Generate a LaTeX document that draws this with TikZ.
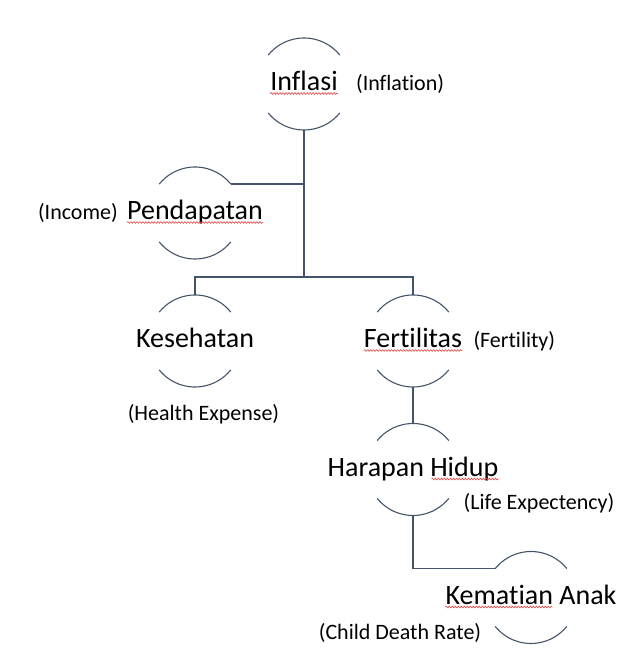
\documentclass[tikz,border=0pt]{standalone}
\usepackage{fontspec}
\setmainfont{Carlito}[Ligatures={NoCommon},RawFeature={-liga}]
\usetikzlibrary{positioning,decorations.pathmorphing}
\definecolor{linegray}{HTML}{44546A}
\definecolor{spellred}{HTML}{E04848}

\begin{document}
\begin{tikzpicture}[x=1pt,y=1pt,main/.style={inner sep=0pt,text height=18pt,text depth=4pt,font=\fontsize{28}{30}\selectfont},trans/.style={inner sep=0pt,font=\fontsize{22}{24}\selectfont},link/.style={draw=linegray,line width=1.6pt},rim/.style={draw=linegray,line width=1.1pt},wavy/.style={draw=spellred,line width=0.6pt,decorate,decoration={snake,amplitude=0.9pt,segment length=3pt}}]
		\useasboundingbox (0,0) rectangle (643,663);

		\node[main]		(infl)	at (304,579)	{Inflasi};
		\node[main]		(pend)	at (195,450)	{Pendapatan};
		\node[main]		(kes)	at (195,322)	{Kesehatan};
		\node[main]		(fert)	at (413,322)	{Fertilitas};
		\node[main]		(hh)	at (413,193.5)	{Harapan Hidup};
		\node[main]		(km)	at (531,65.5)	{Kematian Anak};

		\node[trans,base right=18pt of infl]		(inflation)	{(Inflation)};
		\node[trans,base left=9pt of pend]			(income)	{(Income)};
		\node[trans,base right=11pt of fert]		(fertility)	{(Fertility)};
		\node[trans,anchor=base] at (203.5,242)	(health)	{(Health Expense)};
		\node[trans,anchor=base] at (539,153)	(life)		{(Life Expectency)};
		\node[trans,anchor=base] at (400,23)	(child)		{(Child Death Rate)};

		% broken circles round the main labels
		\foreach \n in {infl,pend,kes,fert,hh,km}{
			\draw[rim] ([shift={(39:46)}]\n.center) arc (39:141:46);
			\draw[rim] ([shift={(219:46)}]\n.center) arc (219:321:46);
		}

		\coordinate (bar) at (304,386);
		\coordinate (pendtip) at ([shift={(39:46)}]pend.center);
		\coordinate (kmtip) at ([shift={(141:46)}]km.center);

		\draw[link] ([yshift=-46pt]infl.center) -- (bar);
		\draw[link] (pendtip) -- (pendtip -| bar);
		\draw[link] ([yshift=46pt]kes.center) |- (bar) -| ([yshift=46pt]fert.center);
		\draw[link] ([yshift=-46pt]fert.center) -- ([yshift=46pt]hh.center);
		\draw[link] ([yshift=-46pt]hh.center) |- (kmtip);

		% spell check marks
		\draw[wavy] ([yshift=-2.5pt]infl.base west) -- ([yshift=-2.5pt]infl.base east);
		\draw[wavy] ([yshift=-2.5pt]pend.base west) -- ([yshift=-2.5pt]pend.base east);
		\draw[wavy] ([yshift=-2.5pt]fert.base west) -- ([yshift=-2.5pt]fert.base east);
		\draw[wavy] ([xshift=-67pt,yshift=-2.5pt]hh.base east) -- ([yshift=-2.5pt]hh.base east);
		\draw[wavy] ([yshift=-2.5pt]km.base west) -- ([xshift=107pt,yshift=-2.5pt]km.base west);
	\end{tikzpicture}
\end{document}
